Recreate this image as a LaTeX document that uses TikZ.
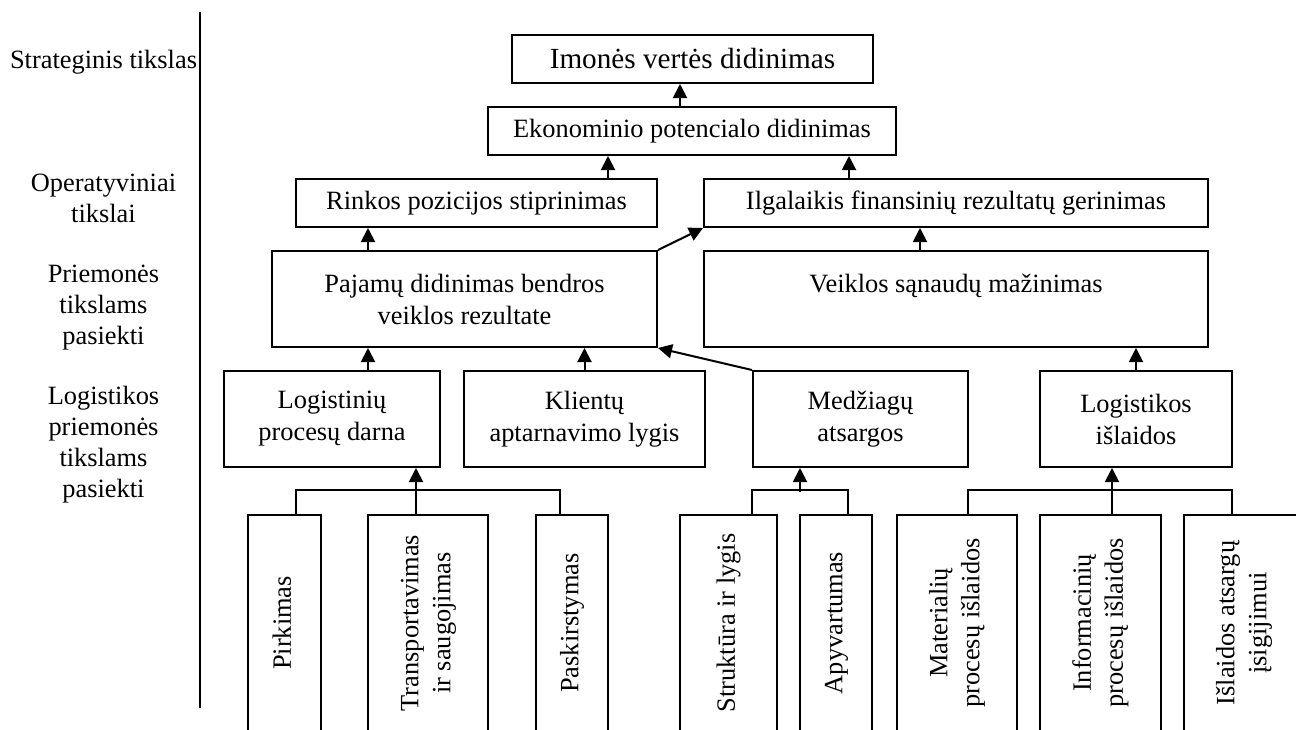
\documentclass[tikz,border=0pt]{standalone}
\usepackage{fontspec}
\setmainfont{Liberation Serif}
\usepackage{graphicx}
\usetikzlibrary{arrows.meta,positioning}
\newcommand{\vtxt}[1]{\rotatebox{90}{\begin{tabular}{@{}c@{}}#1\end{tabular}}}

\begin{document}
\begin{tikzpicture}[x=0.5pt,y=-0.5pt,font=\fontsize{13.2}{16}\selectfont,
  box/.style={draw=black,line width=1pt,align=center,inner sep=0pt},
  flat/.style={box,minimum height=24pt},
  tall/.style={box,minimum height=48pt},
  stem/.style={box,minimum height=108pt},
  lvl/.style={align=center,font=\fontsize{13.2}{15.5}\selectfont},
  link/.style={line width=1pt},
  arr/.style={-{Triangle[length=7pt,width=7pt]},line width=1pt}]
  \path[use as bounding box,clip] (0,0) rectangle (1296,729);
  % levels on the left
  \node[lvl] (strat) at (103.5,62) {Strateginis tikslas};
  \node[lvl] (oper) at (103.5,198) {Operatyviniai\\tikslai};
  \node[lvl] (priem) at (103.5,308) {Priemonės\\tikslams\\pasiekti};
  \node[lvl] (logpr) at (103.5,445) {Logistikos\\priemonės\\tikslams\\pasiekti};
  \coordinate (sepTop) at (200,12);
  \coordinate (sepBot) at (200,708);
  \draw[link] (sepTop) -- (sepBot);
  % goals
  \node[flat,minimum width=180.5pt,font=\fontsize{14.6}{16}\selectfont] (imone) at (692.5,59) {Imonės vertės didinimas};
  \node[flat,minimum width=204pt] (ekon) at (692,131) {Ekonominio potencialo didinimas};
  \node[flat,minimum width=180.5pt] (rinka) at (476.5,203) {Rinkos pozicijos stiprinimas};
  \node[flat,minimum width=252pt] (finans) at (956,203) {Ilgalaikis finansinių rezultatų gerinimas};
  \node[tall,minimum width=192.5pt] (pajamos) at (464.5,299) {Pajamų didinimas bendros\\veiklos rezultate};
  \node[tall,minimum width=252pt] (sanaudos) at (956,299) {Veiklos sąnaudų mažinimas\\\mbox{}};
  % logistics means
  \node[tall,minimum width=108pt] (darna) at (332,419) {Logistinių\\procesų darna};
  \node[tall,minimum width=120.5pt] (klientai) at (584.5,419) {Klientų\\aptarnavimo lygis};
  \node[tall,minimum width=107.5pt] (atsargos) at (860.5,419) {Medžiagų\\atsargos};
  \node[tall,minimum width=96pt] (islaidos) at (1136,419) {Logistikos\\išlaidos};
  % bottom row
  \node[stem,minimum width=36.5pt] (pirkimas) at (284.5,623) {\vtxt{Pirkimas}};
  \node[stem,minimum width=60pt] (transport) at (428,623) {\vtxt{Transportavimas\\ir saugojimas}};
  \node[stem,minimum width=36pt] (paskirst) at (572,623) {\vtxt{Paskirstymas}};
  \node[stem,minimum width=48.5pt] (struktura) at (728.5,623) {\vtxt{Struktūra ir lygis}};
  \node[stem,minimum width=36pt] (apyvarta) at (836,623) {\vtxt{Apyvartumas}};
  \node[stem,minimum width=60pt] (material) at (957,623) {\vtxt{Materialių\\procesų išlaidos}};
  \node[stem,minimum width=60.5pt] (inform) at (1100.5,623) {\vtxt{Informacinių\\procesų išlaidos}};
  \node[stem,minimum width=60pt] (isigij) at (1244,623) {\vtxt{Išlaidos atsargų\\įsigijimui}};
  % upper arrows
  \draw[arr] ([xshift=-6pt]ekon.north) -- ([xshift=-6.25pt]imone.south);
  \draw[arr] ([xshift=65.75pt]rinka.north) -- ([xshift=-42pt]ekon.south);
  \draw[arr] ([xshift=-53.5pt]finans.north) -- ([xshift=78.5pt]ekon.south);
  \draw[arr] ([xshift=-48.25pt]pajamos.north) -- ([xshift=-54.25pt]rinka.south);
  \draw[arr] (pajamos.north east) -- (finans.south west);
  \draw[arr] ([xshift=-18pt]sanaudos.north) -- ([xshift=-18pt]finans.south);
  \draw[arr] ([xshift=18pt]darna.north) -- ([xshift=-48.25pt]pajamos.south);
  \draw[arr] (klientai.north) -- ([xshift=60pt]pajamos.south);
  \draw[arr] (atsargos.north west) -- (pajamos.south east);
  \draw[arr] (islaidos.north) -- ([xshift=90pt]sanaudos.south);
  % lower trees
  \draw[link] ([xshift=5.75pt]pirkimas.north) -- ++(0,-24) -| ([xshift=-6pt]paskirst.north);
  \draw[arr] ([xshift=-6pt]transport.north) -- ([xshift=42pt]darna.south);
  \draw[link] ([xshift=11.75pt]struktura.north) -- ++(0,-24) -| ([xshift=6pt]apyvarta.north);
  \draw[arr] ([xshift=-30.25pt,yshift=-12pt]atsargos.south) -- ([xshift=-30.25pt]atsargos.south);
  \draw[link] ([xshift=5.5pt]material.north) -- ++(0,-24) -| ([xshift=-6pt]isigij.north);
  \draw[arr] ([xshift=5.75pt]inform.north) -- ([xshift=-12pt]islaidos.south);
\end{tikzpicture}
\end{document}
